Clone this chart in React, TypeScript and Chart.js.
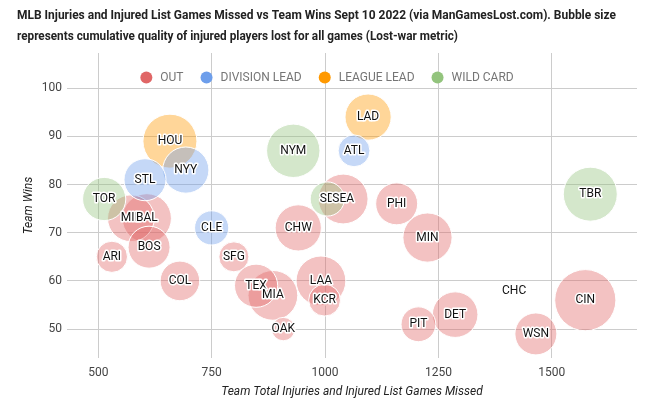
import React, { useEffect, useRef } from 'react';
import { Chart, registerables } from 'chart.js';

Chart.register(...registerables);

const TITLE_LINES = [
  'MLB Injuries and Injured List Games Missed vs Team Wins Sept 10 2022 (via ManGamesLost.com). Bubble size',
  'represents cumulative quality of injured players lost for all games (Lost-war metric)',
];
const X_TITLE = 'Team Total Injuries and Injured List Games Missed';
const Y_TITLE = 'Team Wins';

const teams = ['ARI', 'ATL', 'BAL', 'BOS', 'CHC', 'CHW', 'CIN', 'CLE', 'COL', 'DET', 'HOU', 'KCR', 'LAA', 'LAD', 'MIA', 'MIL', 'MIN', 'NYM', 'NYY', 'OAK', 'PHI', 'PIT', 'SD', 'SFG', 'SEA', 'STL', 'TBR', 'TEX', 'TOR', 'WSN'];
const gamesMissed = [530, 1064, 607, 612, 1417, 941, 1574, 750, 680, 1287, 658, 999, 991, 1095, 885, 572, 1226, 930, 693, 908, 1158, 1206, 1005, 799, 1040, 603, 1585, 848, 513, 1465];
const teamWins = [65, 87, 73, 67, 58, 71, 56, 71, 60, 53, 89, 56, 60, 94, 57, 73, 69, 87, 83, 50, 76, 51, 77, 65, 77, 81, 78, 59, 77, 49];
const lostWar = [5.2, 5.3, 8.2, 7.0, 0.2, 7.7, 10.2, 5.7, 6.6, 7.6, 9.0, 5.3, 8.3, 7.7, 8.3, 7.8, 8.2, 8.9, 7.7, 3.9, 7.0, 5.8, 5.7, 5.0, 8.3, 7.0, 9.0, 7.2, 7.2, 7.0];
const teamStatus = ['OUT', 'DIVISION LEAD', 'OUT', 'OUT', 'OUT', 'OUT', 'OUT', 'DIVISION LEAD', 'OUT', 'OUT', 'LEAGUE LEAD', 'OUT', 'OUT', 'LEAGUE LEAD', 'OUT', 'OUT', 'OUT', 'WILD CARD', 'DIVISION LEAD', 'OUT', 'OUT', 'OUT', 'WILD CARD', 'OUT', 'OUT', 'DIVISION LEAD', 'WILD CARD', 'OUT', 'WILD CARD', 'OUT'];

const statusNames = ['OUT', 'DIVISION LEAD', 'LEAGUE LEAD', 'WILD CARD'];
const statusColors = ['#e06666', '#6d9eeb', '#ff9900', '#93c47d'];

const xTicks = [500, 750, 1000, 1250, 1500];
const yTicks = [50, 60, 70, 80, 90, 100];

function rgba(hex: string, a: number) {
  const n = parseInt(hex.slice(1), 16);
  return `rgba(${(n >> 16) & 255},${(n >> 8) & 255},${n & 255},${a})`;
}

const FONT = 'Roboto, "Noto Sans", sans-serif';

export default function App() {
  const ref = useRef<HTMLCanvasElement>(null);

  useEffect(() => {
    document.body.style.margin = '0';
    const canvas = ref.current!;
    const order = teams.map((_, i) => i).sort((a, b) => lostWar[b] - lostWar[a]);
    const points = order.map((i) => ({ x: gamesMissed[i], y: teamWins[i], r: lostWar[i] * 3 }));
    const labels = order.map((i) => teams[i]);
    const bg = order.map((i) => rgba(statusColors[statusNames.indexOf(teamStatus[i])], 0.4));

    const titlePlugin = {
      id: 'customTitle',
      afterDraw(chart: any) {
        const ctx = chart.ctx;
        ctx.save();
        ctx.font = `bold 13px ${FONT}`;
        ctx.fillStyle = '#222222';
        ctx.textBaseline = 'middle';
        ctx.textAlign = 'left';
        const targets = [599, 441];
        const ys = [16, 37];
        TITLE_LINES.forEach((line, k) => {
          const w = ctx.measureText(line).width;
          const s = Math.min(1, targets[k] / w);
          ctx.save();
          ctx.translate(17, ys[k]);
          ctx.scale(s, 1);
          ctx.fillText(line, 0, 0);
          ctx.restore();
        });
        ctx.restore();
      },
    };

    const legendPlugin = {
      id: 'customLegend',
      beforeDatasetsDraw(chart: any) {
        const ctx = chart.ctx;
        ctx.save();
        ctx.font = `12px ${FONT}`;
        ctx.textBaseline = 'middle';
        ctx.textAlign = 'left';
        const dot = 12;
        const gap = 8;
        const spacing = 17;
        const widths = statusNames.map((n) => ctx.measureText(n).width);
        const total = widths.reduce((s, w) => s + dot + gap + w, 0) + spacing * (statusNames.length - 1);
        let x = chart.width / 2 - total / 2;
        const y = chart.chartArea.top + 24.5;
        statusNames.forEach((name, i) => {
          ctx.fillStyle = statusColors[i];
          ctx.beginPath();
          ctx.arc(x + dot / 2, y, dot / 2, 0, Math.PI * 2);
          ctx.fill();
          ctx.fillStyle = '#757575';
          ctx.fillText(name, x + dot + gap, y);
          x += dot + gap + widths[i] + spacing;
        });
        ctx.restore();
      },
    };

    const labelPlugin = {
      id: 'bubbleLabels',
      afterDatasetsDraw(chart: any) {
        const ctx = chart.ctx;
        const meta = chart.getDatasetMeta(0);
        ctx.save();
        ctx.font = `12px ${FONT}`;
        ctx.textAlign = 'center';
        ctx.textBaseline = 'middle';
        ctx.lineJoin = 'round';
        for (let k = meta.data.length - 1; k >= 0; k--) {
          const el = meta.data[k];
          ctx.strokeStyle = '#ffffff';
          ctx.lineWidth = 3;
          ctx.strokeText(labels[k], el.x, el.y);
          ctx.fillStyle = '#111111';
          ctx.fillText(labels[k], el.x, el.y);
        }
        ctx.restore();
      },
    };

    const chart = new Chart(canvas, {
      type: 'bubble',
      data: {
        datasets: [
          {
            data: points,
            backgroundColor: bg,
            borderColor: '#ffffff',
            borderWidth: 1,
            hoverBorderWidth: 1,
          } as any,
        ],
      },
      options: {
        animation: false,
        responsive: false,
        devicePixelRatio: 1,
        events: [],
        layout: { autoPadding: false, padding: { top: 53, right: 17, left: 0, bottom: 0 } },
        plugins: {
          title: { display: false },
          tooltip: { enabled: false },
          legend: { display: false },
        },
        scales: {
          x: {
            type: 'linear',
            min: 431,
            max: 1688,
            afterBuildTicks: (s: any) => {
              s.ticks = xTicks.map((v) => ({ value: v }));
            },
            afterFit: (s: any) => {
              s.height = 48;
              s.paddingLeft = 0;
              s.paddingRight = 0;
            },
            grid: { color: '#cccccc', drawTicks: false },
            border: { display: false },
            ticks: {
              color: '#444444',
              font: { family: FONT, size: 12 },
              padding: 8,
              maxRotation: 0,
              callback: (v: any) => String(v),
            },
            title: {
              display: true,
              text: X_TITLE,
              color: '#222222',
              font: { family: FONT, size: 12, style: 'italic' },
              padding: { top: 0, bottom: 7 },
            },
          },
          y: {
            type: 'linear',
            min: 44,
            max: 107.3,
            afterBuildTicks: (s: any) => {
              s.ticks = yTicks.map((v) => ({ value: v }));
            },
            afterFit: (s: any) => {
              s.width = 67;
              s.paddingTop = 0;
              s.paddingBottom = 0;
            },
            grid: { color: '#cccccc', drawTicks: false },
            border: { display: false },
            ticks: { color: '#444444', font: { family: FONT, size: 12 }, padding: 5, callback: (v: any) => String(v) },
            title: {
              display: true,
              text: Y_TITLE,
              color: '#222222',
              font: { family: FONT, size: 12, style: 'italic' },
              padding: { top: 22, bottom: 0 },
            },
          },
        },
      } as any,
      plugins: [titlePlugin, legendPlugin, labelPlugin],
    });

    return () => chart.destroy();
  }, []);

  return <canvas ref={ref} width={654} height={406} style={{ display: 'block' }} />;
}
